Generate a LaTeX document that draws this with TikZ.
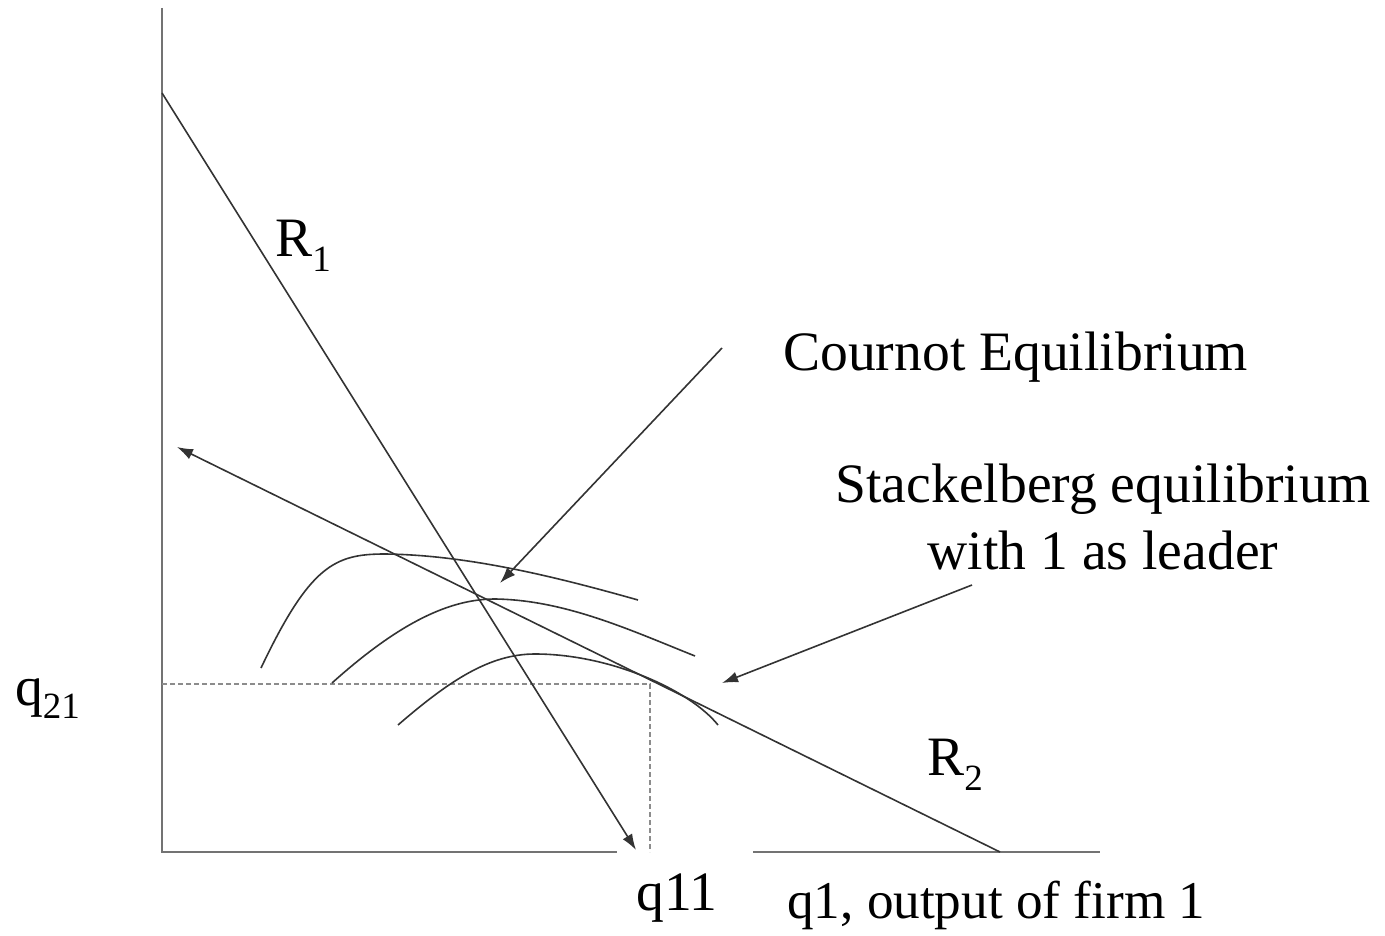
\documentclass[tikz,border=0pt]{standalone}
\usepackage{fontspec}
\setmainfont{Liberation Serif}
\usetikzlibrary{arrows.meta}
\newcommand{\mysub}[2][-14pt]{\raisebox{#1}{\fontsize{37}{40}\selectfont #2}}
\begin{document}
\begin{tikzpicture}[x=1pt,y=-1pt,
  curve/.style={line width=1.6pt, draw=black!80},
  axis/.style={line width=2.2pt, draw=black!55},
  guide/.style={line width=1.2pt, draw=black!45, dash pattern=on 5pt off 3pt},
  arr/.style={-{Latex[length=16pt,width=11pt]}},
  lbl/.style={font=\fontsize{55.6}{67}\selectfont, inner sep=0pt, text=black}]
\useasboundingbox (0,0) rectangle (1385,936);

% coordinates
\coordinate (O) at (162,852);
\coordinate (ytop) at (162,8);
\coordinate (xend) at (1100,852);
\coordinate (gapL) at (617,852);
\coordinate (gapR) at (753,852);
\coordinate (R1s) at (162,93);
\coordinate (R1e) at (636,850);
\coordinate (R2s) at (1000,852);
\coordinate (R2e) at (177,447);
\coordinate (ca1) at (722,348);
\coordinate (ca2) at (500,583);
\coordinate (sa1) at (972,585);
\coordinate (sa2) at (722,683);
\coordinate (Q21) at (162,684);
\coordinate (S) at (650,684);
\coordinate (S0) at (650,852);

% axes
\draw[axis] (ytop) -- (O) -- (gapL);
\draw[axis] (gapR) -- (xend);

% guides
\draw[guide] (Q21) -- (S) -- (S0);

% reaction functions
\draw[curve, arr] (R1s) -- (R1e);
\draw[curve, arr] (R2s) -- (R2e);

% isoprofit curves
\draw[curve] (261,668) .. controls (310,565) and (335,554) .. (385,554)
             .. controls (470,555) and (560,578) .. (638,600);
\draw[curve] (332,683) .. controls (400,622) and (450,599) .. (495,599)
             .. controls (565,600) and (630,630) .. (695,656);
\draw[curve] (398,725) .. controls (450,680) and (490,654) .. (535,654)
             .. controls (610,654) and (690,690) .. (718,725);

% pointer arrows
\draw[curve, arr] (ca1) -- (ca2);
\draw[curve, arr] (sa1) -- (sa2);

% labels
\node[lbl, anchor=base west] (cournot) at (783,370) {Cournot Equilibrium};
\node[lbl, anchor=base, align=center] (stack) at (1103,569) {Stackelberg equilibrium\\with 1 as leader};
\node[lbl, anchor=base west] (r1lab) at (275,257) {R\mysub[-15pt]{1}};
\node[lbl, anchor=base west] (r2lab) at (927,775) {R\mysub[-15pt]{2}};
\node[lbl, anchor=base west] (q21lab) at (15,705) {q\mysub[-13pt]{21}};
\node[lbl, anchor=base west] (q11lab) at (636,910) {q11};
\node[lbl, anchor=base west, font=\fontsize{53.2}{60}\selectfont] (xlab) at (787,918) {q1, output of firm 1};
\end{tikzpicture}
\end{document}
